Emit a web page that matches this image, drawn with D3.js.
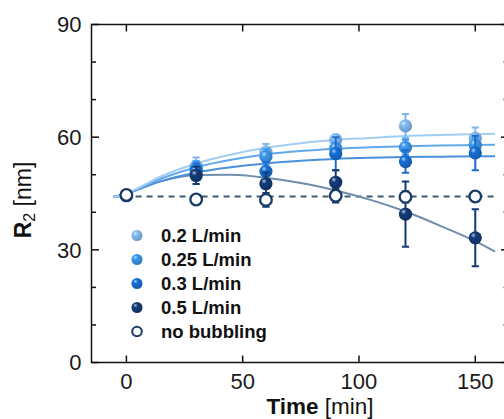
<!DOCTYPE html>
<html>
<head>
<meta charset="utf-8">
<script src="https://cdn.jsdelivr.net/npm/d3@7"></script>
<style>
  html, body { margin: 0; padding: 0; background: #fff; }
  svg { display: block; }
</style>
</head>
<body>
<svg id="chart" width="504" height="419"></svg>
<script>
// ---------- data ----------
const times = [0, 30, 60, 90, 120, 150];
const seriesNames = ["0.2 L/min", "0.25 L/min", "0.3 L/min", "0.5 L/min", "no bubbling"];
const r02  = [44.6, 52.2, 56.0, 59.3, 63.0, 59.7];
const e02  = [1.0, 2.4, 2.2, 1.4, 3.2, 2.9];
const r025 = [44.5, 51.6, 54.8, 57.0, 57.3, 57.9];
const e025 = [1.0, 2.0, 2.0, 1.5, 2.0, 2.0];
const r03  = [44.4, 51.0, 50.9, 55.6, 53.5, 55.8];
const e03  = [1.2, 2.0, 2.5, 4.4, 3.0, 4.6];
const r05  = [44.5, 49.8, 47.6, 48.0, 39.5, 33.2];
const e05  = [1.2, 2.3, 3.0, 3.2, 8.7, 7.6];
const rNone = [44.6, 43.4, 43.3, 44.4, 44.1, 44.2];
const eNone = [0.8, 0.6, 1.8, 1.8, 1.5, 1.0];

// fitted curves
const fitT   = [-5.5, 0, 15, 30, 45, 60, 75, 90, 105, 120, 135, 150, 158.5];
const fit02  = [44.0, 45.0, 49.6, 53.0, 55.4, 57.2, 58.4, 59.3, 59.8, 60.3, 60.6, 60.8, 60.9];
const fit025 = [44.0, 45.0, 49.0, 52.0, 54.0, 55.4, 56.3, 56.9, 57.3, 57.6, 57.8, 57.9, 58.0];
const fit03  = [44.0, 45.0, 48.3, 50.6, 52.0, 53.0, 53.7, 54.2, 54.5, 54.7, 54.8, 54.9, 54.9];
const fit05  = [44.0, 45.0, 48.3, 49.9, 50.0, 49.2, 47.8, 45.8, 43.3, 40.2, 36.4, 32.3, 29.5];
const baseT  = [-5.5, 158.5];
const baseV  = [44.2, 44.2];

const xTicks = [0, 50, 100, 150];
const yTicks = [0, 30, 60, 90];
const yMinor = [10, 20, 40, 50, 70, 80];

// ---------- layout ----------
const svg = d3.select("#chart");
const pL = 91.5, pT = 24.5, pB = 362.5, pR = 508;
const x = d3.scaleLinear().domain([-15, 163]).range([pL, 505.5]);
const y = d3.scaleLinear().domain([0, 90]).range([pB, pT]);

const colors = {
  "0.2 L/min":  { fill: "#84bdf3", err: "#7db8ee", fit: "#a2cdf4" },
  "0.25 L/min": { fill: "#3a98ee", err: "#3b94e8", fit: "#62aaec" },
  "0.3 L/min":  { fill: "#1670d8", err: "#1f6ccc", fit: "#4a90dc" },
  "0.5 L/min":  { fill: "#133c78", err: "#143b74", fit: "#6f8dac" },
  "no bubbling":{ fill: "#ffffff", err: "#183a66", fit: "#3f5873" }
};
const values = [r02, r025, r03, r05, rNone];
const errs = [e02, e025, e03, e05, eNone];
const fits = [fit02, fit025, fit03, fit05];

// gradients for glossy markers
const defs = svg.append("defs");
seriesNames.slice(0, 4).forEach((name, i) => {
  const c = d3.color(colors[name].fill);
  const g = defs.append("radialGradient").attr("id", "g" + i)
    .attr("cx", "38%").attr("cy", "35%").attr("r", "65%").attr("fx", "35%").attr("fy", "30%");
  g.append("stop").attr("offset", "0%").attr("stop-color", d3.interpolateRgb(c, "#ffffff")(0.7));
  g.append("stop").attr("offset", "30%").attr("stop-color", c.formatHex());
  g.append("stop").attr("offset", "100%").attr("stop-color", c.darker(0.6).formatHex());
});

// ---------- frame ----------
const frame = svg.append("g").attr("stroke", "#111").attr("stroke-width", 1.5).attr("fill", "none");
frame.append("path").attr("d", `M${pL},${pT}H${pR}M${pL},${pB}H${pR}M${pL},${pT - 0.75}V${pB + 0.75}M${pR},${pT}V${pB}`);

xTicks.forEach(t => {
  frame.append("line").attr("x1", x(t)).attr("x2", x(t)).attr("y1", pB).attr("y2", pB - 7);
  frame.append("line").attr("x1", x(t)).attr("x2", x(t)).attr("y1", pT).attr("y2", pT + 7);
});
yTicks.forEach(v => {
  frame.append("line").attr("x1", pL).attr("x2", pL + 7.5).attr("y1", y(v)).attr("y2", y(v));
  frame.append("line").attr("x1", pR).attr("x2", pR - 7).attr("y1", y(v)).attr("y2", y(v));
});
yMinor.forEach(v => {
  frame.append("line").attr("x1", pL).attr("x2", pL + 4.5).attr("y1", y(v)).attr("y2", y(v));
  frame.append("line").attr("x1", pR).attr("x2", pR - 5).attr("y1", y(v)).attr("y2", y(v)).attr("stroke", "#999");
});

// tick labels
const tickFont = "'Liberation Sans', Arial, sans-serif";
svg.append("g").selectAll("text").data(yTicks).join("text")
  .attr("x", pL - 10).attr("y", d => y(d)).attr("dy", "0.36em")
  .attr("text-anchor", "end").attr("font-family", tickFont).attr("font-size", 22).attr("fill", "#1a1a1a")
  .text(d => d);
svg.append("g").selectAll("text").data(xTicks).join("text")
  .attr("x", d => x(d)).attr("y", 388.5)
  .attr("text-anchor", "middle").attr("font-family", tickFont).attr("font-size", 22).attr("fill", "#1a1a1a")
  .text(d => d);

// axis titles
const xt = svg.append("text").attr("x", 320).attr("y", 414).attr("text-anchor", "middle")
  .attr("font-family", tickFont).attr("font-size", 22.5).attr("fill", "#111");
xt.append("tspan").attr("font-weight", "bold").text("Time");
xt.append("tspan").text(" [min]");

const yt = svg.append("text").attr("transform", "translate(31,200) rotate(-90)").attr("text-anchor", "middle")
  .attr("font-family", tickFont).attr("font-size", 23).attr("fill", "#111");
yt.append("tspan").attr("font-weight", "bold").text("R");
yt.append("tspan").attr("font-size", 16).attr("dy", 4).text("2");
yt.append("tspan").attr("dy", -4).text(" [nm]");

// ---------- fit lines ----------
const line = d3.line().x(d => x(d[0])).y(d => y(d[1])).curve(d3.curveMonotoneX);
svg.append("path").datum(baseT.map((t, i) => [t, baseV[i]])).attr("d", line)
  .attr("fill", "none").attr("stroke", colors["no bubbling"].fit).attr("stroke-width", 2)
  .attr("stroke-dasharray", "6,5");
[3, 2, 1, 0].forEach(i => {
  svg.append("path").datum(fitT.map((t, k) => [t, fits[i][k]])).attr("d", line)
    .attr("fill", "none").attr("stroke", colors[seriesNames[i]].fit).attr("stroke-width", 2);
});

// ---------- error bars + markers ----------
const R = 6.6, cap = 3.6;
seriesNames.forEach((name, i) => {
  const g = svg.append("g");
  const c = colors[name];
  times.forEach((t, k) => {
    const v = values[i][k], e = errs[i][k];
    const cx = x(t);
    g.append("path")
      .attr("d", `M${cx},${y(v - e)}V${y(v + e)}M${cx - cap},${y(v - e)}H${cx + cap}M${cx - cap},${y(v + e)}H${cx + cap}`)
      .attr("stroke", c.err).attr("stroke-width", 2).attr("fill", "none");
  });
  g.selectAll("circle").data(times).join("circle")
    .attr("cx", d => x(d)).attr("cy", (d, k) => y(values[i][k]))
    .attr("r", i === 4 ? 5.8 : R)
    .attr("fill", i === 4 ? "#fff" : `url(#g${i})`)
    .attr("stroke", i === 4 ? c.err : "none")
    .attr("stroke-width", i === 4 ? 2.3 : 0);
});

// ---------- legend ----------
const leg = svg.append("g");
seriesNames.forEach((name, i) => {
  const yy = 235.5 + 24 * i;
  leg.append("circle").attr("cx", 137).attr("cy", yy).attr("r", i === 4 ? 4.8 : 5.5)
    .attr("fill", i === 4 ? "#fff" : `url(#g${i})`)
    .attr("stroke", i === 4 ? colors[name].err : "none").attr("stroke-width", i === 4 ? 2 : 0);
  leg.append("text").attr("x", 161).attr("y", yy).attr("dy", "0.36em")
    .attr("font-family", tickFont).attr("font-weight", "bold").attr("font-size", 18.5).attr("fill", "#111")
    .text(name);
});
</script>
</body>
</html>
